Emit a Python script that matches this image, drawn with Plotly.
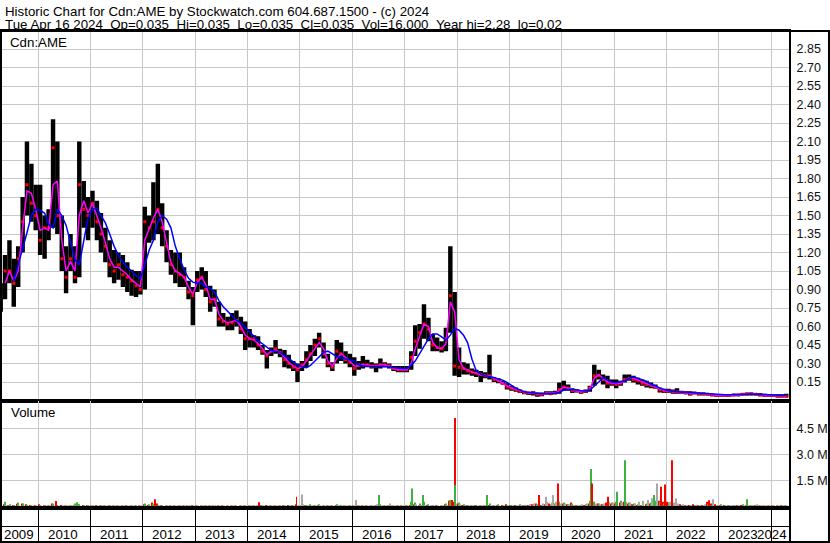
import pandas as pd
import plotly.graph_objects as go

# monthly bars, Apr 2009 .. Apr 2024 (mid-month)
months = pd.date_range("2009-04-01", "2024-04-01", freq="MS") + pd.Timedelta(days=14)

high = [
    0.95, 1.18, 1.30, 1.15, 1.25, 1.65, 2.10, 1.92, 1.75,                        # 2009
    1.75, 1.50, 1.55, 2.28, 2.10, 1.50, 1.25, 1.35, 1.25, 2.10, 1.78, 1.65,      # 2010
    1.70, 1.62, 1.52, 1.40, 1.30, 1.22, 1.20, 1.18, 1.12, 1.06, 1.05, 1.05,      # 2011
    1.57, 1.50, 1.77, 1.92, 1.60, 1.38, 1.22, 1.20, 1.20, 1.08, 0.97, 0.92,      # 2012
    1.05, 1.08, 1.05, 0.93, 0.90, 0.80, 0.71, 0.68, 0.71, 0.73, 0.68, 0.64,      # 2013
    0.58, 0.53, 0.52, 0.45, 0.41, 0.43, 0.49, 0.42, 0.41, 0.37, 0.32, 0.30,      # 2014
    0.32, 0.40, 0.45, 0.50, 0.55, 0.47, 0.38, 0.31, 0.49, 0.47, 0.40, 0.38,      # 2015
    0.35, 0.32, 0.36, 0.33, 0.31, 0.30, 0.34, 0.31, 0.30, 0.28, 0.28, 0.28,      # 2016
    0.28, 0.40, 0.61, 0.62, 0.78, 0.67, 0.54, 0.51, 0.48, 0.59, 1.25, 0.88,      # 2017
    0.43, 0.31, 0.30, 0.26, 0.25, 0.24, 0.23, 0.37, 0.19, 0.18, 0.16, 0.14,      # 2018
    0.12, 0.105, 0.09, 0.08, 0.07, 0.075, 0.065, 0.065, 0.075, 0.075, 0.08, 0.145,  # 2019
    0.16, 0.13, 0.10, 0.09, 0.08, 0.09, 0.12, 0.29, 0.25, 0.21, 0.20, 0.17,      # 2020
    0.17, 0.16, 0.21, 0.21, 0.20, 0.185, 0.17, 0.16, 0.145, 0.13, 0.105, 0.095,  # 2021
    0.095, 0.09, 0.10, 0.08, 0.075, 0.075, 0.07, 0.065, 0.065, 0.06, 0.055, 0.05,  # 2022
    0.05, 0.05, 0.05, 0.055, 0.055, 0.06, 0.065, 0.065, 0.06, 0.06, 0.055, 0.05,  # 2023
    0.05, 0.05, 0.05, 0.055,                                                     # 2024
]
low = [
    0.72, 0.82, 0.95, 0.76, 0.92, 1.20, 1.50, 1.45, 1.38,
    1.18, 1.15, 1.30, 1.40, 1.35, 1.05, 0.87, 1.05, 0.95, 1.00, 1.40, 1.30,
    1.40, 1.30, 1.20, 1.12, 1.00, 0.95, 0.98, 0.92, 0.88, 0.85, 0.84, 0.86,
    0.90, 1.28, 1.30, 1.35, 1.25, 1.12, 1.02, 0.95, 0.92, 0.92, 0.82, 0.61,
    0.88, 0.90, 0.84, 0.72, 0.76, 0.60, 0.60, 0.57, 0.57, 0.60, 0.54, 0.41,
    0.43, 0.43, 0.41, 0.37, 0.26, 0.36, 0.38, 0.35, 0.27, 0.26, 0.24, 0.15,
    0.24, 0.27, 0.32, 0.36, 0.43, 0.34, 0.27, 0.24, 0.30, 0.32, 0.30, 0.27,
    0.20, 0.25, 0.26, 0.27, 0.26, 0.23, 0.26, 0.27, 0.26, 0.24, 0.23, 0.23,
    0.23, 0.25, 0.36, 0.42, 0.50, 0.48, 0.40, 0.40, 0.39, 0.40, 0.55, 0.20,
    0.19, 0.21, 0.21, 0.20, 0.19, 0.15, 0.18, 0.17, 0.15, 0.14, 0.13, 0.09,
    0.08, 0.07, 0.06, 0.05, 0.045, 0.04, 0.03, 0.035, 0.05, 0.045, 0.05, 0.055,
    0.08, 0.08, 0.06, 0.065, 0.055, 0.06, 0.07, 0.12, 0.17, 0.13, 0.10, 0.12,
    0.10, 0.12, 0.145, 0.16, 0.145, 0.13, 0.12, 0.105, 0.10, 0.095, 0.065, 0.06,
    0.06, 0.055, 0.055, 0.055, 0.05, 0.04, 0.05, 0.04, 0.04, 0.04, 0.035, 0.03,
    0.03, 0.03, 0.03, 0.035, 0.035, 0.04, 0.04, 0.04, 0.04, 0.035, 0.03, 0.03,
    0.03, 0.025, 0.025, 0.025,
]
close = [
    0.85, 1.05, 1.05, 0.95, 1.15, 1.45, 1.75, 1.60, 1.50,
    1.30, 1.40, 1.40, 2.05, 1.50, 1.15, 1.00, 1.15, 1.00, 1.75, 1.55, 1.50,
    1.60, 1.45, 1.35, 1.25, 1.10, 1.05, 1.10, 1.02, 1.00, 0.97, 0.93, 0.90,
    1.45, 1.40, 1.45, 1.55, 1.40, 1.25, 1.10, 1.05, 1.02, 1.00, 0.88, 0.85,
    0.98, 1.00, 0.90, 0.80, 0.82, 0.66, 0.64, 0.62, 0.63, 0.65, 0.58, 0.50,
    0.50, 0.50, 0.45, 0.40, 0.36, 0.40, 0.42, 0.39, 0.33, 0.30, 0.27, 0.25,
    0.29, 0.33, 0.38, 0.45, 0.50, 0.38, 0.30, 0.27, 0.40, 0.38, 0.33, 0.31,
    0.26, 0.29, 0.29, 0.29, 0.28, 0.28, 0.29, 0.29, 0.28, 0.26, 0.25, 0.25,
    0.25, 0.35, 0.48, 0.55, 0.62, 0.58, 0.45, 0.43, 0.42, 0.50, 0.85, 0.28,
    0.27, 0.26, 0.24, 0.23, 0.22, 0.21, 0.20, 0.20, 0.17, 0.16, 0.14, 0.11,
    0.10, 0.085, 0.075, 0.065, 0.06, 0.06, 0.05, 0.05, 0.06, 0.055, 0.06, 0.09,
    0.11, 0.10, 0.08, 0.08, 0.07, 0.075, 0.10, 0.20, 0.20, 0.17, 0.14, 0.14,
    0.13, 0.14, 0.17, 0.18, 0.17, 0.16, 0.14, 0.13, 0.12, 0.11, 0.085, 0.075,
    0.075, 0.07, 0.07, 0.065, 0.06, 0.055, 0.06, 0.055, 0.055, 0.05, 0.045, 0.04,
    0.04, 0.04, 0.04, 0.045, 0.045, 0.05, 0.05, 0.055, 0.05, 0.045, 0.04, 0.04,
    0.04, 0.035, 0.035, 0.035,
]
# short moving average (magenta)
ma_short = [
    None, 0.95, 1.05, 0.97, 1.05, 1.40, 1.70, 1.68, 1.55,
    1.38, 1.40, 1.38, 1.75, 1.78, 1.30, 1.05, 1.13, 1.05, 1.50, 1.62, 1.52,
    1.60, 1.50, 1.40, 1.28, 1.15, 1.08, 1.08, 1.05, 1.02, 0.98, 0.95, 0.92,
    1.30, 1.40, 1.48, 1.55, 1.45, 1.28, 1.12, 1.05, 1.03, 1.00, 0.92, 0.86,
    0.96, 1.00, 0.94, 0.82, 0.82, 0.70, 0.65, 0.63, 0.64, 0.65, 0.60, 0.53,
    0.50, 0.49, 0.46, 0.42, 0.37, 0.40, 0.41, 0.39, 0.35, 0.31, 0.28, 0.26,
    0.27, 0.32, 0.37, 0.42, 0.47, 0.42, 0.32, 0.28, 0.34, 0.38, 0.35, 0.32,
    0.28, 0.28, 0.29, 0.29, 0.28, 0.28, 0.29, 0.29, 0.28, 0.26, 0.25, 0.25,
    0.25, 0.30, 0.42, 0.52, 0.62, 0.60, 0.47, 0.43, 0.42, 0.46, 0.80, 0.72,
    0.33, 0.26, 0.25, 0.23, 0.22, 0.21, 0.20, 0.20, 0.18, 0.16, 0.145, 0.12,
    0.10, 0.09, 0.078, 0.068, 0.06, 0.06, 0.052, 0.05, 0.058, 0.058, 0.06, 0.08,
    0.11, 0.10, 0.085, 0.08, 0.07, 0.075, 0.09, 0.18, 0.21, 0.18, 0.15, 0.14,
    0.135, 0.14, 0.16, 0.185, 0.18, 0.165, 0.15, 0.135, 0.12, 0.11, 0.09, 0.08,
    0.075, 0.07, 0.07, 0.065, 0.06, 0.058, 0.058, 0.055, 0.055, 0.05, 0.045, 0.042,
    0.04, 0.04, 0.04, 0.043, 0.045, 0.05, 0.052, 0.055, 0.052, 0.048, 0.042, 0.04,
    0.04, 0.038, 0.036, 0.035,
]
# long moving average (blue)
ma_long = [
    None, None, None, 0.97, 1.10, 1.22, 1.36, 1.50, 1.55,
    1.54, 1.52, 1.43, 1.40, 1.55, 1.50, 1.42, 1.28, 1.14, 1.10, 1.28, 1.48,
    1.55, 1.56, 1.50, 1.44, 1.35, 1.25, 1.18, 1.12, 1.08, 1.05, 1.01, 0.99,
    1.10, 1.22, 1.30, 1.45, 1.50, 1.47, 1.40, 1.25, 1.15, 1.06, 0.99, 0.96,
    0.95, 0.95, 0.92, 0.91, 0.88, 0.81, 0.76, 0.72, 0.685, 0.65, 0.63, 0.59,
    0.555, 0.52, 0.486, 0.46, 0.43, 0.405, 0.40, 0.39, 0.365, 0.34, 0.32, 0.29,
    0.273, 0.265, 0.284, 0.32, 0.357, 0.39, 0.40, 0.38, 0.357, 0.346, 0.338, 0.33,
    0.32, 0.29, 0.28, 0.278, 0.278, 0.276, 0.276, 0.276, 0.273, 0.267, 0.262, 0.26,
    0.26, 0.287, 0.32, 0.38, 0.44, 0.50, 0.54, 0.54, 0.515, 0.49, 0.53, 0.584,
    0.57, 0.53, 0.47, 0.335, 0.24, 0.214, 0.20, 0.195, 0.186, 0.175, 0.165, 0.146,
    0.12, 0.10, 0.085, 0.07, 0.065, 0.06, 0.057, 0.055, 0.055, 0.055, 0.058, 0.065,
    0.085, 0.09, 0.09, 0.088, 0.08, 0.078, 0.085, 0.115, 0.15, 0.185, 0.165, 0.148,
    0.145, 0.15, 0.16, 0.18, 0.19, 0.18, 0.17, 0.155, 0.13, 0.12, 0.10, 0.088,
    0.08, 0.075, 0.07, 0.067, 0.067, 0.064, 0.062, 0.06, 0.057, 0.054, 0.05, 0.048,
    0.046, 0.046, 0.046, 0.046, 0.046, 0.046, 0.05, 0.053, 0.053, 0.05, 0.048, 0.046,
    0.044, 0.041, 0.04, 0.04,
]

# typical daily volume per month, millions (down / up / unchanged days)
vol_down = [
    0.12, 0.15, 0.10, 0.12, 0.18, 0.20, 0.15, 0.12, 0.10,
    0.15, 0.10, 0.08, 0.20, 0.15, 0.12, 0.08, 0.06, 0.10, 0.15, 0.12, 0.10,
    0.08, 0.10, 0.06, 0.08, 0.10, 0.06, 0.05, 0.08, 0.10, 0.06, 0.08, 0.06,
    0.15, 0.12, 0.25, 0.20, 0.10, 0.08, 0.06, 0.05, 0.08, 0.06, 0.05, 0.10,
    0.05, 0.04, 0.06, 0.05, 0.04, 0.05, 0.03, 0.04, 0.03, 0.04, 0.04, 0.05,
    0.04, 0.05, 0.08, 0.10, 0.12, 0.06, 0.05, 0.06, 0.10, 0.12, 0.10, 0.15,
    0.08, 0.10, 0.06, 0.08, 0.10, 0.08, 0.06, 0.05, 0.10, 0.08, 0.06, 0.05,
    0.08, 0.05, 0.06, 0.05, 0.04, 0.05, 0.06, 0.05, 0.04, 0.05, 0.06, 0.05,
    0.05, 0.12, 0.15, 0.10, 0.20, 0.12, 0.08, 0.10, 0.06, 0.15, 0.35, 0.30,
    0.20, 0.12, 0.10, 0.08, 0.10, 0.08, 0.06, 0.12, 0.08, 0.10, 0.12, 0.15,
    0.10, 0.12, 0.08, 0.10, 0.12, 0.15, 0.20, 0.12, 0.15, 0.20, 0.18, 0.25,
    0.20, 0.15, 0.25, 0.10, 0.08, 0.12, 0.20, 0.30, 0.20, 0.15, 0.25, 0.20,
    0.20, 0.25, 0.30, 0.20, 0.15, 0.12, 0.10, 0.15, 0.20, 0.30, 0.35, 0.30,
    0.30, 0.25, 0.20, 0.15, 0.10, 0.12, 0.15, 0.10, 0.12, 0.30, 0.20, 0.15,
    0.10, 0.12, 0.10, 0.08, 0.10, 0.12, 0.10, 0.08, 0.10, 0.08, 0.06, 0.08,
    0.06, 0.08, 0.10, 0.06,
]
vol_up = [
    0.15, 0.30, 0.15, 0.12, 0.25, 0.20, 0.12, 0.10, 0.08,
    0.10, 0.12, 0.10, 0.18, 0.12, 0.08, 0.06, 0.10, 0.20, 0.15, 0.10, 0.12,
    0.10, 0.08, 0.12, 0.06, 0.05, 0.08, 0.06, 0.05, 0.06, 0.08, 0.05, 0.06,
    0.20, 0.15, 0.18, 0.12, 0.08, 0.06, 0.05, 0.06, 0.05, 0.04, 0.05, 0.04,
    0.04, 0.05, 0.03, 0.04, 0.05, 0.03, 0.04, 0.03, 0.05, 0.03, 0.04, 0.04,
    0.05, 0.04, 0.06, 0.08, 0.06, 0.10, 0.08, 0.05, 0.06, 0.05, 0.06, 0.08,
    0.10, 0.12, 0.15, 0.10, 0.15, 0.08, 0.06, 0.05, 0.15, 0.10, 0.05, 0.06,
    0.05, 0.06, 0.08, 0.05, 0.06, 0.08, 0.15, 0.06, 0.05, 0.04, 0.05, 0.06,
    0.06, 0.30, 0.25, 0.20, 0.30, 0.15, 0.10, 0.08, 0.06, 0.20, 0.40, 0.30,
    0.25, 0.15, 0.12, 0.10, 0.12, 0.08, 0.10, 0.20, 0.10, 0.15, 0.10, 0.08,
    0.12, 0.10, 0.15, 0.12, 0.08, 0.10, 0.15, 0.12, 0.20, 0.15, 0.20, 0.30,
    0.25, 0.15, 0.20, 0.12, 0.10, 0.15, 0.35, 0.30, 0.20, 0.15, 0.20, 0.25,
    0.30, 0.35, 0.40, 0.25, 0.20, 0.15, 0.12, 0.20, 0.25, 0.35, 0.30, 0.20,
    0.25, 0.20, 0.15, 0.12, 0.10, 0.10, 0.12, 0.08, 0.10, 0.15, 0.12, 0.10,
    0.15, 0.10, 0.12, 0.10, 0.08, 0.15, 0.20, 0.10, 0.08, 0.10, 0.06, 0.08,
    0.08, 0.06, 0.10, 0.06,
]
vol_flat = [
    0.05, 0.06, 0.04, 0.05, 0.06, 0.05, 0.04, 0.05, 0.04,
    0.05, 0.04, 0.05, 0.06, 0.05, 0.04, 0.03, 0.04, 0.05, 0.06, 0.04, 0.05,
    0.04, 0.05, 0.10, 0.04, 0.03, 0.04, 0.03, 0.04, 0.03, 0.04, 0.03, 0.04,
    0.05, 0.04, 0.06, 0.05, 0.04, 0.03, 0.04, 0.03, 0.04, 0.03, 0.03, 0.04,
    0.03, 0.04, 0.03, 0.03, 0.04, 0.03, 0.03, 0.02, 0.03, 0.02, 0.03, 0.03,
    0.03, 0.04, 0.05, 0.06, 0.05, 0.06, 0.05, 0.04, 0.05, 0.06, 0.08, 0.10,
    0.15, 0.08, 0.10, 0.08, 0.10, 0.08, 0.06, 0.08, 0.10, 0.08, 0.06, 0.08,
    0.12, 0.10, 0.08, 0.06, 0.08, 0.15, 0.10, 0.08, 0.20, 0.06, 0.05, 0.10,
    0.08, 0.10, 0.15, 0.12, 0.10, 0.08, 0.06, 0.08, 0.10, 0.12, 0.15, 0.20,
    0.15, 0.10, 0.08, 0.10, 0.08, 0.06, 0.08, 0.10, 0.06, 0.08, 0.10, 0.12,
    0.10, 0.08, 0.10, 0.12, 0.15, 0.20, 0.25, 0.20, 0.30, 0.25, 0.30, 0.20,
    0.20, 0.15, 0.12, 0.10, 0.15, 0.20, 0.25, 0.20, 0.15, 0.20, 0.30, 0.25,
    0.20, 0.25, 0.30, 0.25, 0.20, 0.30, 0.35, 0.40, 0.50, 0.45, 0.40, 0.35,
    0.30, 0.25, 0.20, 0.15, 0.12, 0.10, 0.12, 0.10, 0.15, 0.20, 0.15, 0.12,
    0.10, 0.08, 0.10, 0.12, 0.10, 0.08, 0.10, 0.12, 0.15, 0.10, 0.08, 0.10,
    0.10, 0.08, 0.06, 0.05,
]

# individual high-volume days
spike_dates = [
    "2010-05-05", "2010-09-27", "2012-03-26", "2014-03-24", "2014-12-08", "2015-01-13",
    "2016-01-26", "2016-07-08", "2017-02-21", "2017-05-05", "2017-11-28", "2017-12-15",
    "2017-12-18", "2018-08-01", "2019-07-25", "2019-09-13", "2019-10-30", "2019-12-06",
    "2020-07-23", "2020-07-30", "2020-11-20", "2021-01-22", "2021-03-19", "2021-10-08",
    "2021-10-27", "2021-11-26", "2021-12-22", "2022-02-10", "2022-03-07", "2022-10-21",
    "2022-11-18", "2023-07-19",
]
spike_vol = [
    0.34, 0.27, 0.44, 0.27, 0.59, 0.72, 0.40, 0.68, 1.06, 0.68, 0.40, 5.09,
    1.25, 0.68, 0.68, 0.59, 0.68, 1.35, 2.17, 1.35, 0.59, 0.87, 2.68, 0.68,
    1.35, 1.16, 1.29, 2.68, 0.49, 0.38, 0.44, 0.44,
]
spike_dir = [
    "d", "u", "d", "d", "d", "n", "n", "u", "u", "u", "d", "d",
    "u", "u", "d", "n", "n", "d", "u", "d", "d", "u", "u", "u",
    "n", "d", "d", "d", "n", "d", "n", "u",
]

price_ticks = [0.15, 0.30, 0.45, 0.60, 0.75, 0.90, 1.05, 1.20, 1.35, 1.50,
               1.65, 1.80, 1.95, 2.10, 2.25, 2.40, 2.55, 2.70, 2.85]
vol_ticks = [1.5, 3.0, 4.5]
years = list(range(2010, 2024))

DAY = 86400000
FONT = "Liberation Sans, Arial, sans-serif"
GRID = "#c8c8c8"
VOL_COLORS = {"d": "#ff0000", "u": "#3cb43c", "n": "#a8a8a8"}
X_RANGE = ["2009-04-24", "2024-05-04"]

fig = go.Figure()

fig.add_trace(go.Bar(
    x=months, y=[h - l for h, l in zip(high, low)], base=low,
    width=31 * DAY, marker=dict(color="black", line=dict(width=0)),
    xaxis="x", yaxis="y",
))
fig.add_trace(go.Scatter(
    x=months, y=close, mode="markers",
    marker=dict(symbol="square", size=3, color="#ff0000", line=dict(width=0)),
    xaxis="x", yaxis="y",
))
fig.add_trace(go.Scatter(
    x=months, y=ma_short, mode="lines", line=dict(color="#ff00ff", width=1.5),
    xaxis="x", yaxis="y",
))
fig.add_trace(go.Scatter(
    x=months, y=ma_long, mode="lines", line=dict(color="#0000ff", width=1.5),
    xaxis="x", yaxis="y",
))

for vals, key, off in ((vol_down, "d", -11), (vol_up, "u", -3), (vol_flat, "n", 5)):
    fig.add_trace(go.Bar(
        x=months, y=vals, width=7 * DAY, offset=off * DAY,
        marker=dict(color=VOL_COLORS[key], line=dict(width=0)),
        xaxis="x2", yaxis="y2",
    ))
fig.add_trace(go.Bar(
    x=spike_dates, y=spike_vol, width=7 * DAY,
    marker=dict(color=[VOL_COLORS[d] for d in spike_dir], line=dict(width=0)),
    xaxis="x2", yaxis="y2",
))

xcommon = dict(
    type="date", range=X_RANGE, dtick="M12", tick0="2010-01-01",
    showgrid=True, gridcolor=GRID, gridwidth=1, showticklabels=False, ticks="",
    showline=True, mirror=True, linecolor="black", linewidth=2, zeroline=False,
)
ycommon = dict(
    side="right", showgrid=True, gridcolor=GRID, gridwidth=1, ticks="",
    showline=True, mirror=True, linecolor="black", linewidth=2, zeroline=False,
    tickfont=dict(family=FONT, size=12.5, color="#111"), ticklabelstandoff=3,
)

annotations = [
    dict(text="Historic Chart for Cdn:AME by Stockwatch.com 604.687.1500 - (c) 2024",
         xref="paper", yref="paper", x=0.0013, y=1.0575, xanchor="left", yanchor="top",
         showarrow=False, font=dict(family=FONT, size=13.3, color="#000")),
    dict(text="Tue Apr 16 2024\u00a0\u00a0Op=0.035\u00a0\u00a0Hi=0.035\u00a0\u00a0Lo=0.035"
              "\u00a0\u00a0Cl=0.035\u00a0\u00a0Vol=16,000\u00a0\u00a0Year hi=2.28\u00a0\u00a0lo=0.02",
         xref="paper", yref="paper", x=0.0013, y=1.0318, xanchor="left", yanchor="top",
         showarrow=False, font=dict(family=FONT, size=13.3, color="#000")),
    dict(text="Cdn:AME", xref="paper", yref="paper", x=0.0076, y=0.996,
         xanchor="left", yanchor="top", showarrow=False,
         font=dict(family=FONT, size=13.3, color="#000")),
    dict(text="Volume", xref="paper", yref="paper", x=0.0085, y=0.272,
         xanchor="left", yanchor="top", showarrow=False,
         font=dict(family=FONT, size=13.3, color="#000")),
    dict(text="2009", xref="x3", yref="y3", x=X_RANGE[0], y=0.235, xanchor="left",
         showarrow=False, font=dict(family=FONT, size=13.3, color="#000")),
    dict(text="2024", xref="x3", yref="y3", x=X_RANGE[1], y=0.235, xanchor="right",
         showarrow=False, font=dict(family=FONT, size=13.3, color="#000")),
]
for yr in years:
    annotations.append(dict(
        text=str(yr), xref="x3", yref="y3", x=f"{yr}-06-20", y=0.235,
        showarrow=False, font=dict(family=FONT, size=13.3, color="#000"),
    ))

shapes = [
    dict(type="line", xref="paper", yref="paper", x0=-0.0025, x1=1.052, y0=1, y1=1,
         line=dict(color="black", width=2)),
    dict(type="line", xref="paper", yref="paper", x0=1.0508, x1=1.0508, y0=0, y1=1,
         line=dict(color="black", width=2)),
    dict(type="line", xref="paper", yref="paper", x0=-0.0025, x1=1.052, y0=0, y1=0,
         line=dict(color="black", width=2)),
]

fig.update_layout(
    width=830, height=543,
    margin=dict(l=2, r=41, t=31, b=1),
    paper_bgcolor="white", plot_bgcolor="white",
    barmode="overlay", showlegend=False, hovermode=False,
    xaxis=dict(xcommon, domain=[0, 1], anchor="y"),
    xaxis2=dict(xcommon, domain=[0, 1], anchor="y2", matches="x"),
    xaxis3=dict(xcommon, domain=[0, 1], anchor="y3", matches="x", gridcolor="black"),
    yaxis=dict(ycommon, domain=[0.2769, 1], range=[0, 2.996],
               tickvals=price_ticks, ticktext=[f"{v:.2f}" for v in price_ticks]),
    yaxis2=dict(ycommon, domain=[0.0665, 0.2750], range=[-0.06, 6.04],
                tickvals=vol_ticks, ticktext=[f"{v:.1f} M" for v in vol_ticks]),
    yaxis3=dict(ycommon, domain=[0, 0.0665], range=[0, 1], tickvals=[0.47],
                gridcolor="black", showticklabels=False),
    annotations=annotations,
    shapes=shapes,
)

# the page's default body margin would push the fixed-size figure off-screen
fig.write_html(
    "out.html",
    config={"displayModeBar": False},
    post_script="document.body.style.margin='0';",
)
